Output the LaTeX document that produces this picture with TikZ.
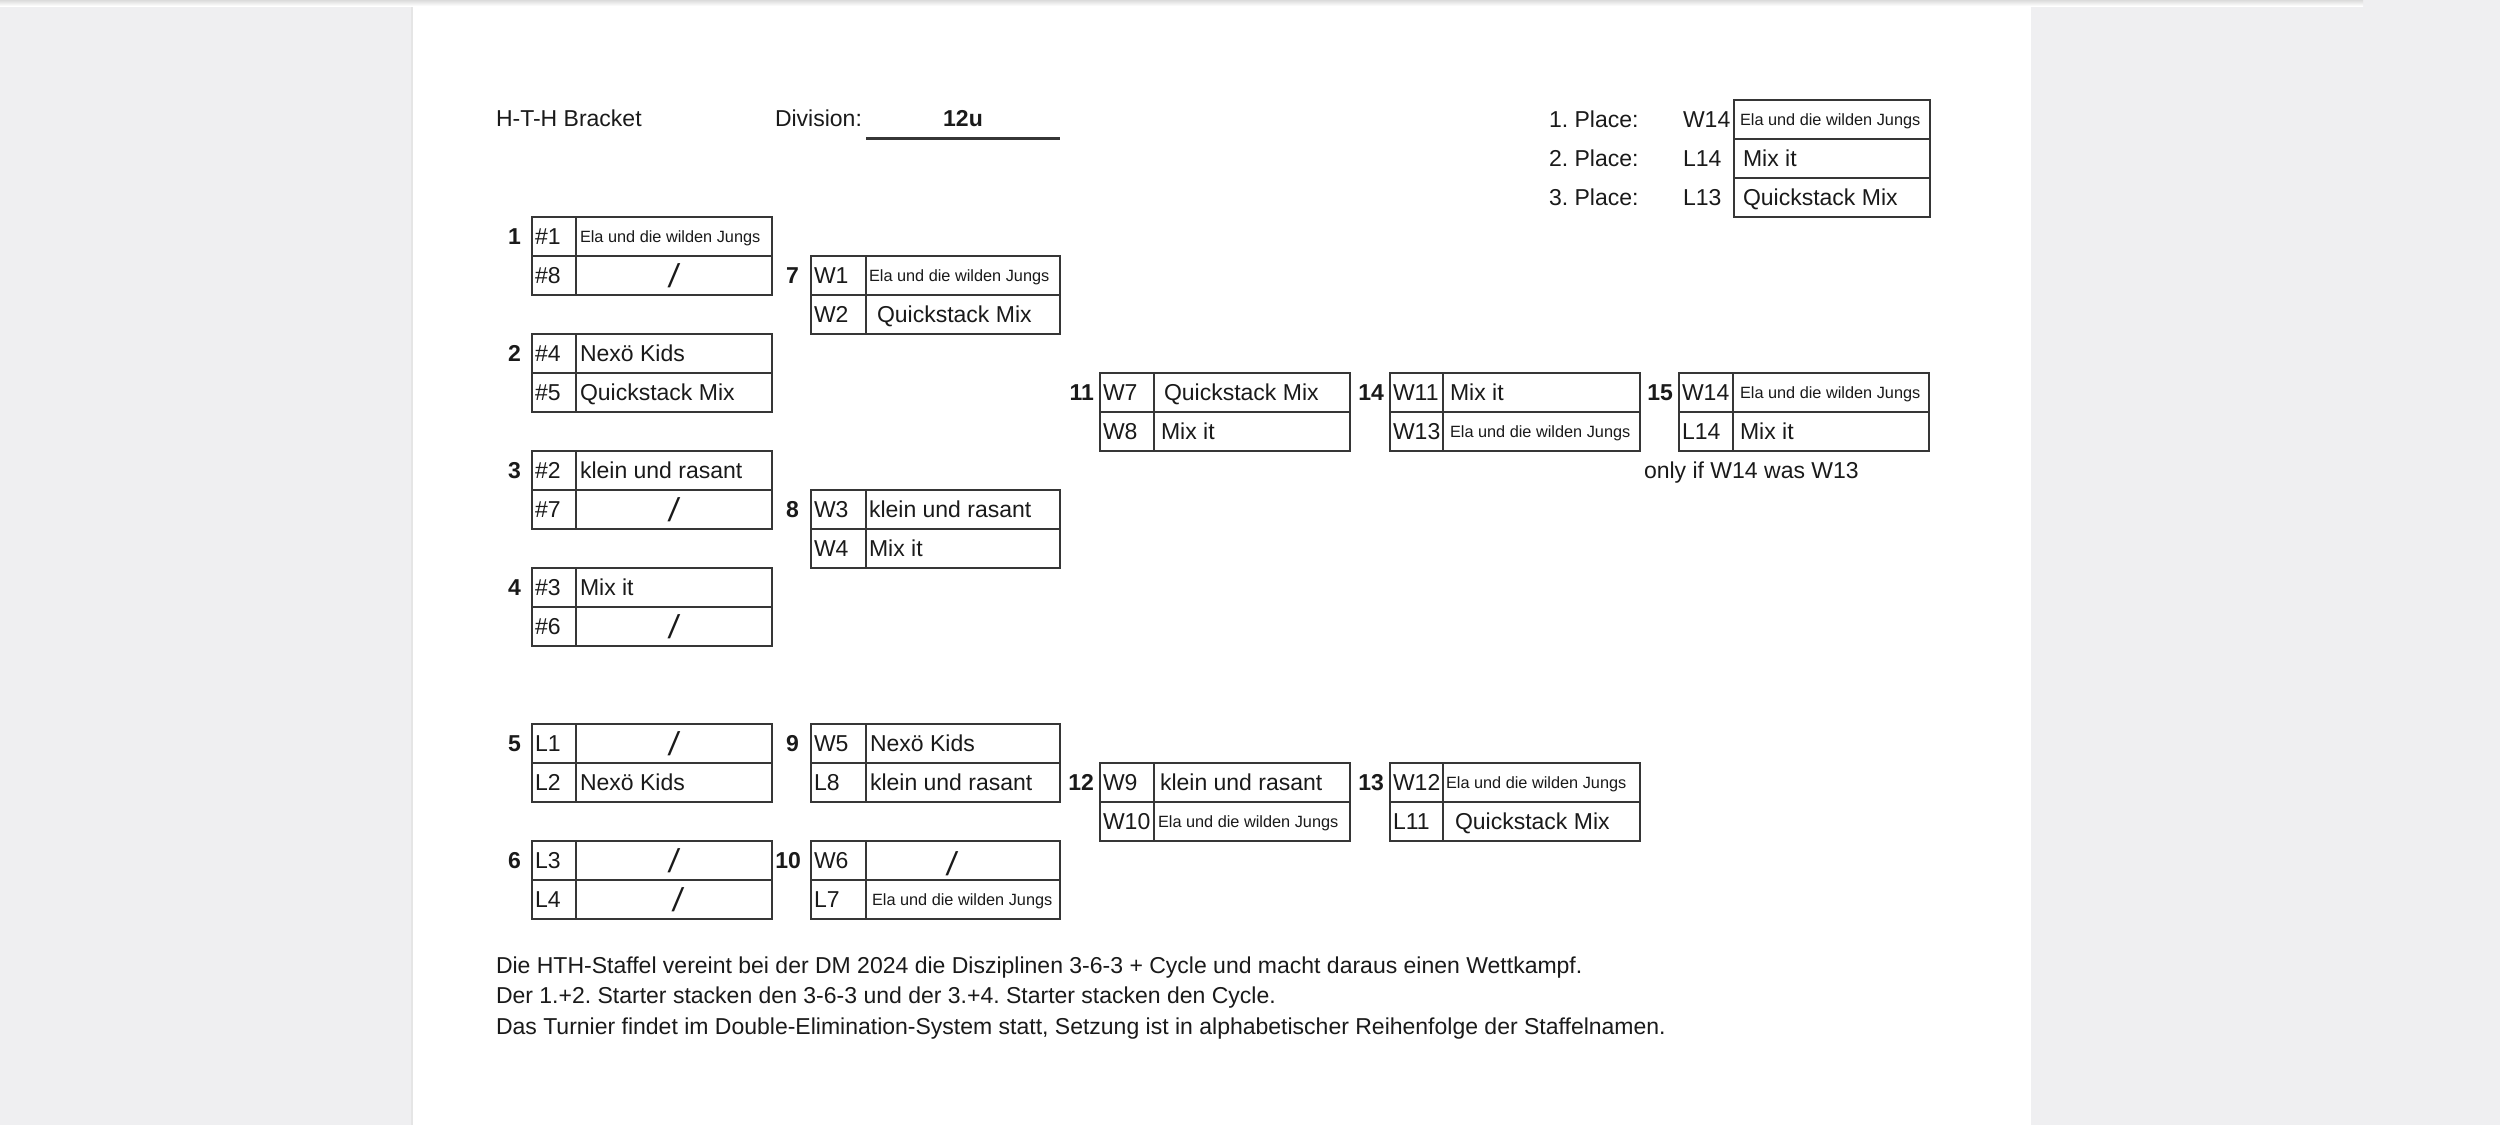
\documentclass[tikz,border=0pt]{standalone}
\usepackage{fontspec}
\setmainfont{Liberation Sans}
\frenchspacing
\definecolor{bggrey}{HTML}{EFEFF1}
\definecolor{linec}{HTML}{363636}
\definecolor{txt}{HTML}{1A1A1A}
% column x positions: L = left edge, D = divider, R = right edge
\newcommand\defcol[4]{%
  \expandafter\def\csname colL#1\endcsname{#2}%
  \expandafter\def\csname colD#1\endcsname{#3}%
  \expandafter\def\csname colR#1\endcsname{#4}}
\newcommand\cx[2]{\csname col#1#2\endcsname}
\defcol{A}{532}{576}{772}
\defcol{B}{811}{866}{1060}
\defcol{C}{1100}{1154}{1350}
\defcol{D}{1390}{1443}{1640}
\defcol{E}{1679}{1733}{1929}
\tikzset{
  cellline/.style={draw=linec, line width=2.2pt},
  lab/.style={inner sep=0pt, outer sep=0pt, anchor=base west, yshift=-8pt, text=txt,
    font=\fontsize{23}{27}\selectfont},
  teamn/.style={lab},
  teams/.style={lab, yshift=2.3pt, font=\fontsize{16.3}{18}\selectfont},
  gnumber/.style={inner sep=0pt, outer sep=0pt, anchor=base east, yshift=-8pt, text=txt,
    font=\bfseries\fontsize{23}{27}\selectfont},
  slashtxt/.style={inner sep=0pt, outer sep=0pt, anchor=center, text=txt,
    font=\fontsize{33}{36}\selectfont, transform shape},
}
% one row of a game box: [team x offset]{name}{col}{row}{label}{team style}{team text}
\newcommand\slot[7][4]{%
  \pgfmathsetmacro\yt{217+39*#4}%
  \pgfmathsetmacro\yb{\yt+39}%
  \pgfmathsetmacro\yc{\yt+19.5}%
  \draw[cellline] (\cx L{#3},\yt) rectangle (\cx R{#3},\yb);
  \draw[cellline] (\cx D{#3},\yt) -- (\cx D{#3},\yb);
  \node[lab] (#2-l) at (\cx L{#3}+3,\yc) {#5};
  \node[#6] (#2-t) at (\cx D{#3}+#1,\yc) {#7};
}
% row with an empty slot shown as a slash: [x centre]{name}{col}{row}{label}{y shift}
\newcommand\xslot[6][]{%
  \pgfmathsetmacro\yt{217+39*#4}%
  \pgfmathsetmacro\yb{\yt+39}%
  \pgfmathsetmacro\yc{\yt+19.5+#6}%
  \draw[cellline] (\cx L{#3},\yt) rectangle (\cx R{#3},\yb);
  \draw[cellline] (\cx D{#3},\yt) -- (\cx D{#3},\yb);
  \node[lab] (#2-l) at (\cx L{#3}+3,\yt+19.5) {#5};
  \ifx\relax#1\relax
    \pgfmathsetmacro\xc{(\cx D{#3}+\cx R{#3})/2}%
  \else
    \pgfmathsetmacro\xc{#1}%
  \fi
  \begin{scope}[shift={(\xc,\yc)}, xslant=0.15]
    \node[slashtxt] (#2-t) at (0,0) {/};
  \end{scope}
}
% game number: {name}{col}{row}{text}{gap}
\newcommand\gnum[5]{%
  \pgfmathsetmacro\yc{217+39*#3+19.5}%
  \node[gnumber] (#1) at (\cx L{#2}-#5,\yc) {#4};
}
\newcommand\ela{Ela und die wilden Jungs}
\begin{document}
\begin{tikzpicture}[x=1pt, y=-1pt]
\useasboundingbox (0,0) rectangle (2500,1125);
% background and page
\fill[bggrey] (0,0) rectangle (2500,1125);
\fill[white] (413,0) rectangle (2031,1125);
\draw[draw=black!10, line width=2pt] (412,0) -- (412,1125);
\shade[top color=black!14, bottom color=white, draw=none] (0,0) rectangle (2363,6);

% header
\node[lab] (title) at (496,118.5) {H-T-H Bracket};
\node[lab] (divlab) at (775,118.5) {Division:};
\node[lab, anchor=base, font=\bfseries\fontsize{23}{27}\selectfont] (div) at (963,118.5) {12u};
\coordinate (ulA) at (866,138.5);
\coordinate (ulB) at (1060,138.5);
\draw[cellline] (ulA) -- (ulB);

% places
\node[lab] (p1) at (1549,119.5) {1. Place:};
\node[lab] (p2) at (1549,158.5) {2. Place:};
\node[lab] (p3) at (1549,197.5) {3. Place:};
\node[lab] (p1l) at (1683,119.5) {W14};
\node[lab] (p2l) at (1683,158.5) {L14};
\node[lab] (p3l) at (1683,197.5) {L13};
\draw[cellline] (1734,100) rectangle (1930,139);
\draw[cellline] (1734,139) rectangle (1930,178);
\draw[cellline] (1734,178) rectangle (1930,217);
\node[teams] (p1t) at (1740,119.5) {\ela};
\node[teamn] (p2t) at (1743,158.5) {Mix it};
\node[teamn] (p3t) at (1743,197.5) {Quickstack Mix};

% winners bracket
\gnum{g1}{A}{0}{1}{11}
\slot{g1a}{A}{0}{\#1}{teams}{\ela}
\xslot{g1b}{A}{1}{\#8}{0}

\gnum{g2}{A}{3}{2}{11}
\slot{g2a}{A}{3}{\#4}{teamn}{Nexö Kids}
\slot{g2b}{A}{4}{\#5}{teamn}{Quickstack Mix}

\gnum{g3}{A}{6}{3}{11}
\slot{g3a}{A}{6}{\#2}{teamn}{klein und rasant}
\xslot{g3b}{A}{7}{\#7}{0}

\gnum{g4}{A}{9}{4}{11}
\slot{g4a}{A}{9}{\#3}{teamn}{Mix it}
\xslot{g4b}{A}{10}{\#6}{0}

\gnum{g7}{B}{1}{7}{12}
\slot[3]{g7a}{B}{1}{W1}{teams}{\ela}
\slot[11]{g7b}{B}{2}{W2}{teamn}{Quickstack Mix}

\gnum{g8}{B}{7}{8}{12}
\slot[3]{g8a}{B}{7}{W3}{teamn}{klein und rasant}
\slot[3]{g8b}{B}{8}{W4}{teamn}{Mix it}

\gnum{g11}{C}{4}{11}{6}
\slot[10]{g11a}{C}{4}{W7}{teamn}{Quickstack Mix}
\slot[7]{g11b}{C}{5}{W8}{teamn}{Mix it}

\gnum{g14}{D}{4}{14}{6}
\slot[7]{g14a}{D}{4}{W11}{teamn}{Mix it}
\slot[7]{g14b}{D}{5}{W13}{teams}{\ela}

\gnum{g15}{E}{4}{15}{6}
\slot[7]{g15a}{E}{4}{W14}{teams}{\ela}
\slot[7]{g15b}{E}{5}{L14}{teamn}{Mix it}
\node[lab] (note) at (1644,470.5) {only if W14 was W13};

% losers bracket
\gnum{g5}{A}{13}{5}{11}
\xslot{g5a}{A}{13}{L1}{0}
\slot{g5b}{A}{14}{L2}{teamn}{Nexö Kids}

\gnum{g6}{A}{16}{6}{11}
\xslot{g6a}{A}{16}{L3}{0}
\xslot[678]{g6b}{A}{17}{L4}{0}

\gnum{g9}{B}{13}{9}{12}
\slot[4]{g9a}{B}{13}{W5}{teamn}{Nexö Kids}
\slot[4]{g9b}{B}{14}{L8}{teamn}{klein und rasant}

\gnum{g10}{B}{16}{10}{10}
\xslot[952]{g10a}{B}{16}{W6}{3}
\slot[6]{g10b}{B}{17}{L7}{teams}{\ela}

\gnum{g12}{C}{14}{12}{6}
\slot[6]{g12a}{C}{14}{W9}{teamn}{klein und rasant}
\slot[4]{g12b}{C}{15}{W10}{teams}{\ela}

\gnum{g13}{D}{14}{13}{6}
\slot[3]{g13a}{D}{14}{W12}{teams}{\ela}
\slot[12]{g13b}{D}{15}{L11}{teamn}{Quickstack Mix}

% footer
\node[lab] (f1) at (496,965) {Die HTH-Staffel vereint bei der DM 2024 die Disziplinen 3-6-3 + Cycle und macht daraus einen Wettkampf.};
\node[lab] (f2) at (496,995.5) {Der 1.+2. Starter stacken den 3-6-3 und der 3.+4. Starter stacken den Cycle.};
\node[lab] (f3) at (496,1026) {Das Turnier findet im Double-Elimination-System statt, Setzung ist in alphabetischer Reihenfolge der Staffelnamen.};
\end{tikzpicture}
\end{document}
